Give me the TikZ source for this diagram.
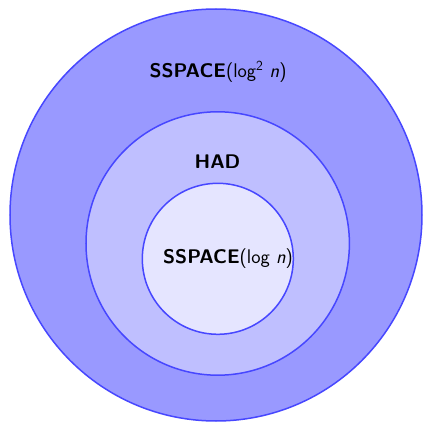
\documentclass[tikz,border=0pt]{standalone}
\begin{document}
\begin{tikzpicture}[x=1bp,y=1bp,
  ring/.style={circle, draw=blue!72, line width=1.5bp, inner sep=0pt},
  lbl/.style={font=\fontsize{19.8}{24}\selectfont\sffamily, inner sep=0pt}]
\useasboundingbox (0,0) rectangle (423,424);
\node[ring, fill=blue!40, minimum size=412bp] (outer) at (216,209) {};
\node[ring, fill=blue!25, minimum size=263.4bp] (middle) at (217.7,180.5) {};
\node[ring, fill=blue!10, minimum size=151bp] (inner) at (217.8,165.2) {};
\node[lbl] (louter) at (218,352) {\textbf{SSPACE}(log\textsuperscript{2} \textit{n})};
\node[lbl] (lmiddle) at (217.5,262.3) {\textbf{HAD}};
\node[lbl] (linner) at (228,165.7) {\textbf{SSPACE}(log \textit{n})};
\end{tikzpicture}
\end{document}
